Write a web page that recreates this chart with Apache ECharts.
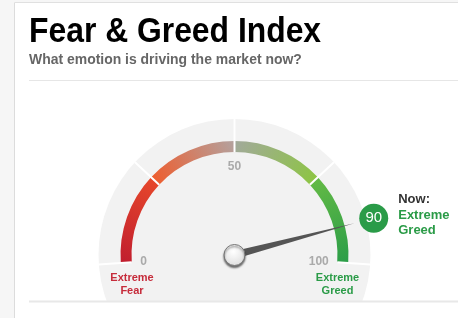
<!DOCTYPE html>
<html>
<head>
<meta charset="utf-8">
<script src="https://cdn.jsdelivr.net/npm/echarts@6/dist/echarts.min.js"></script>
<style>
  html, body { margin: 0; padding: 0; background: #fff; }
  #chart { width: 458px; height: 318px; }
</style>
</head>
<body>
<div id="chart"></div>
<script>
// ---- data ----
const titleText = 'Fear & Greed Index';
const subtitleText = 'What emotion is driving the market now?';
const scaleMin = 0;
const scaleMax = 100;
const scaleSplits = [0, 25, 50, 75, 100];
const shownTickLabels = [0, 50, 100];
const currentValue = 90;
const currentRating = ['Extreme', 'Greed'];
const nowLabel = 'Now:';
const fearLabel = ['Extreme', 'Fear'];
const greedLabel = ['Extreme', 'Greed'];

// ---- layout / style ----
const CX = 234.5, CY = 255;
const START = 184, END = -4;
const R_BAND = 114, BAND_W = 11, R_DISC = 136;
const BADGE_R = 144;

const chart = echarts.init(document.getElementById('chart'), null, { renderer: 'canvas' });
const G = echarts.graphic.LinearGradient;
const bandColors = [
  [0.25, new G(0, 1, 1, 0, [{ offset: 0, color: '#c01d2e' }, { offset: 1, color: '#e8492b' }])],
  [0.5, new G(0, 1, 1, 0, [{ offset: 0, color: '#f15a29' }, { offset: 1, color: '#b3a29f' }])],
  [0.75, new G(0, 0, 1, 1, [{ offset: 0, color: '#a2a99c' }, { offset: 1, color: '#8cc63f' }])],
  [1, new G(0, 0, 1, 1, [{ offset: 0, color: '#66bb45' }, { offset: 1, color: '#2a9d48' }])]
];
const angleSpan = START - END;

const option = {
  animation: false,
  backgroundColor: '#fff',
  graphic: [
    { type: 'rect', shape: { x: 0, y: 0, width: 14, height: 318 }, style: { fill: '#f6f6f6' } },
    { type: 'rect', shape: { x: 0, y: 0, width: 458, height: 2 }, style: { fill: '#f6f6f6' } },
    { type: 'line', shape: { x1: 14.5, y1: 2.5, x2: 14.5, y2: 318 }, style: { stroke: '#dcdcdc', lineWidth: 1 } },
    { type: 'line', shape: { x1: 14.5, y1: 2.5, x2: 458, y2: 2.5 }, style: { stroke: '#e0e0e0', lineWidth: 1 } },
    { type: 'text', x: 29, y: 32, scaleX: 0.91, style: { text: titleText, x: 0, y: 0, align: 'left', verticalAlign: 'middle', fill: '#000', font: 'bold 35px "Liberation Sans", Arial, sans-serif' } },
    { type: 'text', x: 29, y: 60, scaleX: 0.93, style: { text: subtitleText, x: 0, y: 0, align: 'left', verticalAlign: 'middle', fill: '#666', font: 'bold 15px "Liberation Sans", Arial, sans-serif' } },
    { type: 'line', shape: { x1: 29, y1: 80.5, x2: 458, y2: 80.5 }, style: { stroke: '#e6e6e6', lineWidth: 1 } },
    { type: 'circle', shape: { cx: CX, cy: CY, r: R_DISC }, style: { fill: '#f2f2f2' } },
    { type: 'rect', shape: { x: 15, y: 301, width: 443, height: 17 }, style: { fill: '#fff' } },
    { type: 'line', shape: { x1: 29, y1: 301.5, x2: 458, y2: 301.5 }, style: { stroke: '#e8e8e8', lineWidth: 2 } },
    { type: 'text', style: { text: fearLabel.join('\n'), x: 132, y: 284.5, align: 'center', verticalAlign: 'middle', lineHeight: 13, fill: '#c62c3b', font: 'bold 11px "Liberation Sans", Arial, sans-serif' } },
    { type: 'text', style: { text: greedLabel.join('\n'), x: 337.5, y: 284.5, align: 'center', verticalAlign: 'middle', lineHeight: 13, fill: '#2a9b47', font: 'bold 11px "Liberation Sans", Arial, sans-serif' } }
  ],
  polar: { center: [CX, CY], radius: 200 },
  angleAxis: {
    type: 'value', startAngle: START, clockwise: true,
    min: scaleMin, max: scaleMin + (scaleMax - scaleMin) * 360 / angleSpan,
    show: false
  },
  radiusAxis: { type: 'value', min: 0, max: 200, show: false },
  series: [
    {
      type: 'gauge',
      center: [CX, CY],
      radius: R_BAND,
      startAngle: START,
      endAngle: END,
      min: scaleMin,
      max: scaleMax,
      splitNumber: scaleSplits.length - 1,
      z: 3,
      axisLine: { show: true, lineStyle: { width: BAND_W, color: bandColors } },
      progress: { show: false },
      splitLine: { show: true, distance: -33, length: 33, lineStyle: { color: '#fff', width: 2 } },
      axisTick: { show: false },
      axisLabel: {
        show: true, distance: 19.5, color: '#aaa', fontSize: 12, fontWeight: 'bold',
        fontFamily: '"Liberation Sans", Arial, sans-serif',
        formatter: v => shownTickLabels.indexOf(Math.round(v)) >= 0 ? String(Math.round(v)) : ''
      },
      pointer: {
        show: true, icon: 'triangle', length: 124, width: 8, offsetCenter: [0, 0], keepAspect: false,
        itemStyle: { color: '#555' }
      },
      anchor: {
        show: true, showAbove: true, size: 21, offsetCenter: [0, 0],
        itemStyle: {
          color: new echarts.graphic.RadialGradient(0.45, 0.35, 0.7, [{ offset: 0, color: '#ffffff' }, { offset: 1, color: '#dcdcdc' }]),
          borderColor: '#777', borderWidth: 1,
          shadowColor: 'rgba(0,0,0,0.55)', shadowBlur: 2, shadowOffsetY: 2
        }
      },
      title: { show: false },
      detail: { show: false },
      data: [{ value: currentValue }]
    },
    {
      type: 'scatter',
      coordinateSystem: 'polar',
      symbol: 'circle',
      symbolSize: 29,
      z: 5,
      itemStyle: { color: '#2a9b48', opacity: 1 },
      emphasis: { disabled: true },
      label: {
        show: true, position: 'inside', color: '#fff', fontSize: 15,
        fontFamily: '"Liberation Sans", Arial, sans-serif',
        formatter: p => String(p.value[1])
      },
      data: [[BADGE_R, currentValue]]
    },
    {
      type: 'scatter',
      coordinateSystem: 'polar',
      symbol: 'circle',
      symbolSize: 29,
      z: 4,
      itemStyle: { color: '#2a9b48', opacity: 0 },
      emphasis: { disabled: true },
      label: {
        show: true, position: 'right', distance: 10, offset: [0, -3], opacity: 1,
        formatter: () => '{n|' + nowLabel + '}\n{r|' + currentRating.join('}\n{r|') + '}',
        rich: {
          n: { color: '#333', fontSize: 13, fontWeight: 'bold', lineHeight: 15.5, fontFamily: '"Liberation Sans", Arial, sans-serif' },
          r: { color: '#2a9b47', fontSize: 13, fontWeight: 'bold', lineHeight: 15.5, fontFamily: '"Liberation Sans", Arial, sans-serif' }
        }
      },
      data: [[BADGE_R, currentValue]]
    }
  ]
};
chart.setOption(option);
</script>
</body>
</html>
